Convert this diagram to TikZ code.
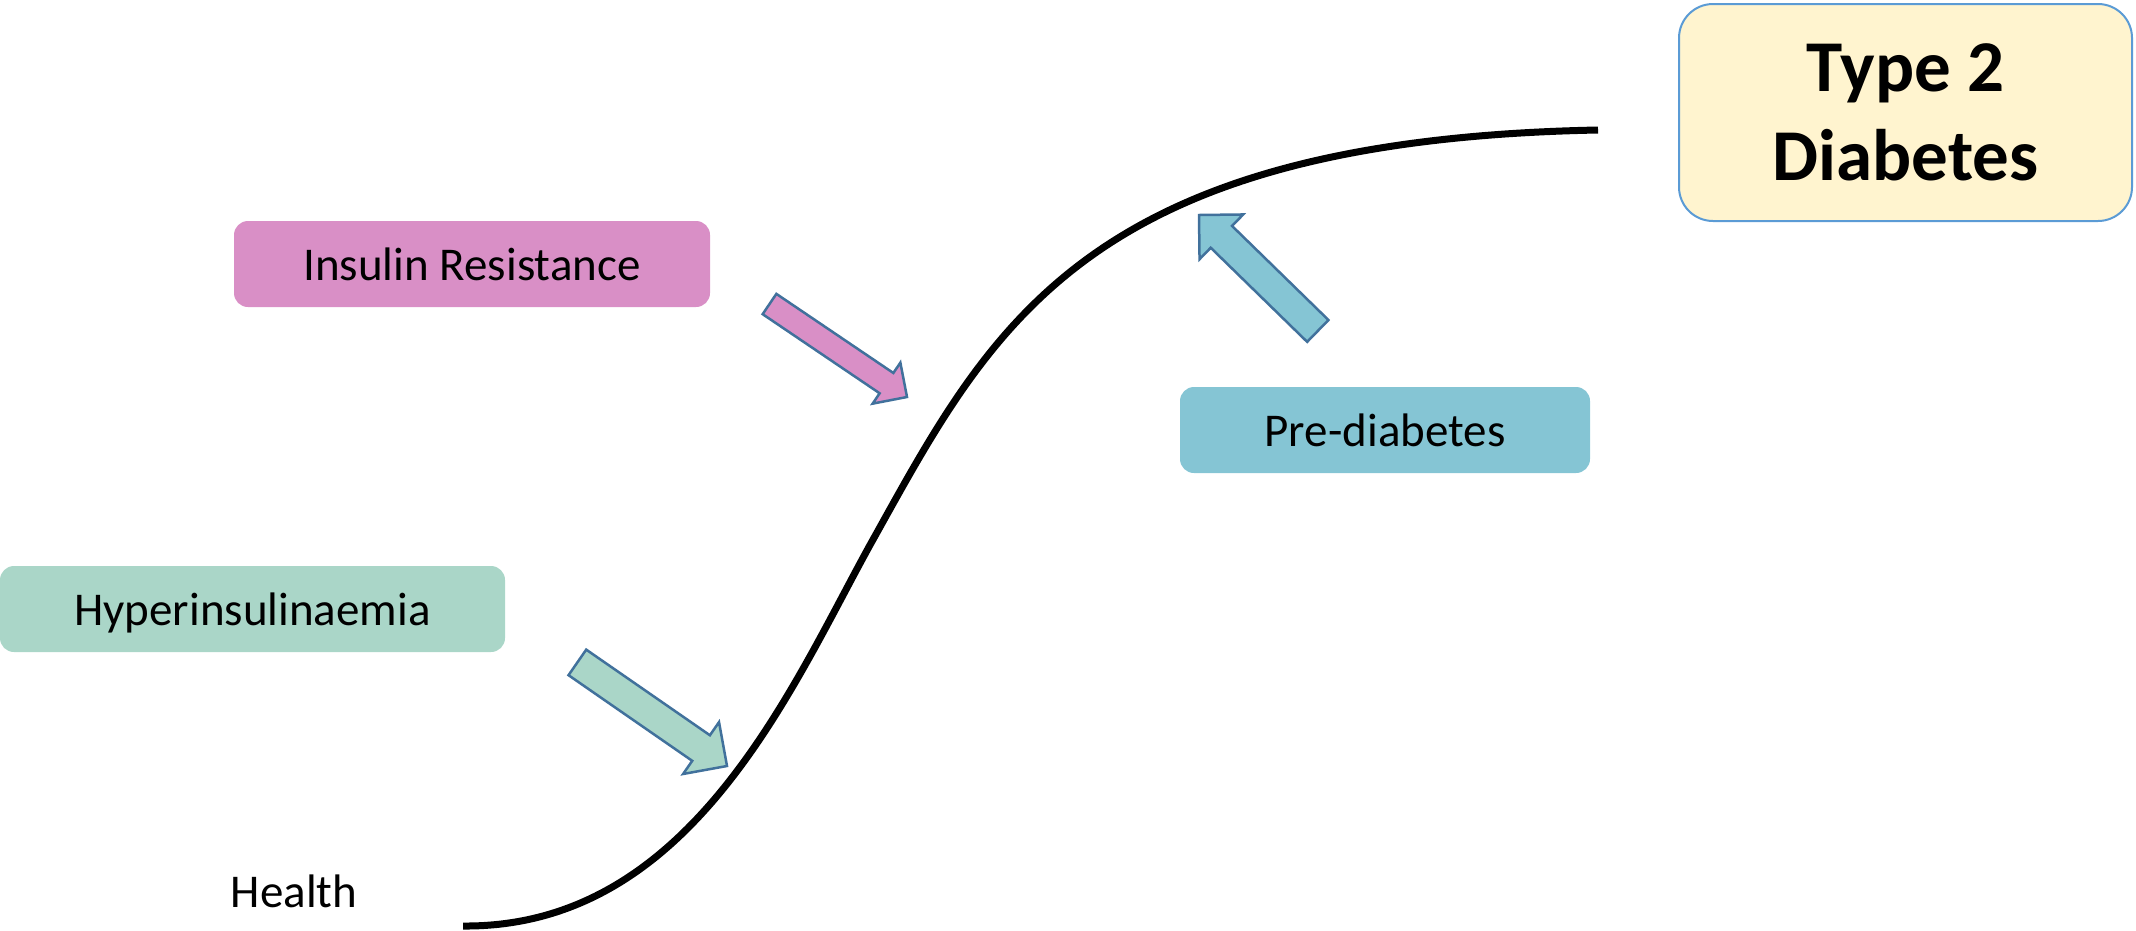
\documentclass[tikz,border=0pt]{standalone}
\usepackage{fontspec}
\setmainfont{Carlito}
\usetikzlibrary{shapes.arrows}
\definecolor{pinkf}{HTML}{D98FC6}
\definecolor{greenf}{HTML}{AAD6C8}
\definecolor{bluef}{HTML}{85C5D4}
\definecolor{yellowf}{HTML}{FFF4CF}
\definecolor{yellowline}{HTML}{5B9BD5}
\definecolor{arrowline}{HTML}{41719C}
\tikzset{
  labelbox/.style={rectangle, rounded corners=14pt, minimum height=86pt, inner sep=0pt,
    font=\fontsize{47}{56}\selectfont, text height=33pt, text depth=0pt},
  blockarrow/.style={single arrow, draw=arrowline, line width=2.5pt, inner xsep=0pt,
    minimum width=0pt, outer sep=0pt, single arrow tip angle=90, anchor=tip},
  curveline/.style={line width=7pt}
}
\begin{document}
\begin{tikzpicture}[x=1pt,y=-1pt]
\useasboundingbox (0,0) rectangle (2136,930);

\node[labelbox, fill=pinkf, minimum width=476pt] (ir) at (472,264) {Insulin Resistance};
\node[labelbox, fill=greenf, minimum width=505pt] (hyper) at (252.5,609) {Hyperinsulinaemia};
\node[labelbox, fill=bluef, minimum width=410pt] (pre) at (1385,430) {Pre-diabetes};
\node[rectangle, rounded corners=34pt, draw=yellowline, line width=2pt, fill=yellowf,
  minimum width=453pt, minimum height=217pt, inner sep=0pt, align=center,
  font=\fontsize{73}{89}\selectfont\bfseries] (t2d) at (1905.5,112.5) {Type 2\\Diabetes};
\node[anchor=base, font=\fontsize{47}{56}\selectfont, inner sep=0pt] (health) at (294,907) {Health};

\coordinate (cstart) at (463,926);
\coordinate (cmid) at (870,545);
\coordinate (cend) at (1598,130);
\draw[curveline] (cstart) .. controls (690,928) and (790,690) .. (cmid)
  .. controls (990,330) and (1080,140) .. (cend);

\node[blockarrow, fill=pinkf, inner ysep=11pt, minimum height=166pt,
  single arrow head extend=12.5pt, rotate=-34.07] (a1) at (907,397) {};
\node[blockarrow, fill=greenf, inner ysep=14.3pt, minimum height=182pt,
  single arrow head extend=16pt, rotate=-34.7] (a2) at (727,766) {};
\node[blockarrow, fill=bluef, inner ysep=14pt, minimum height=166pt,
  single arrow head extend=16pt, rotate=135.7] (a3) at (1199,215) {};
\end{tikzpicture}
\end{document}
